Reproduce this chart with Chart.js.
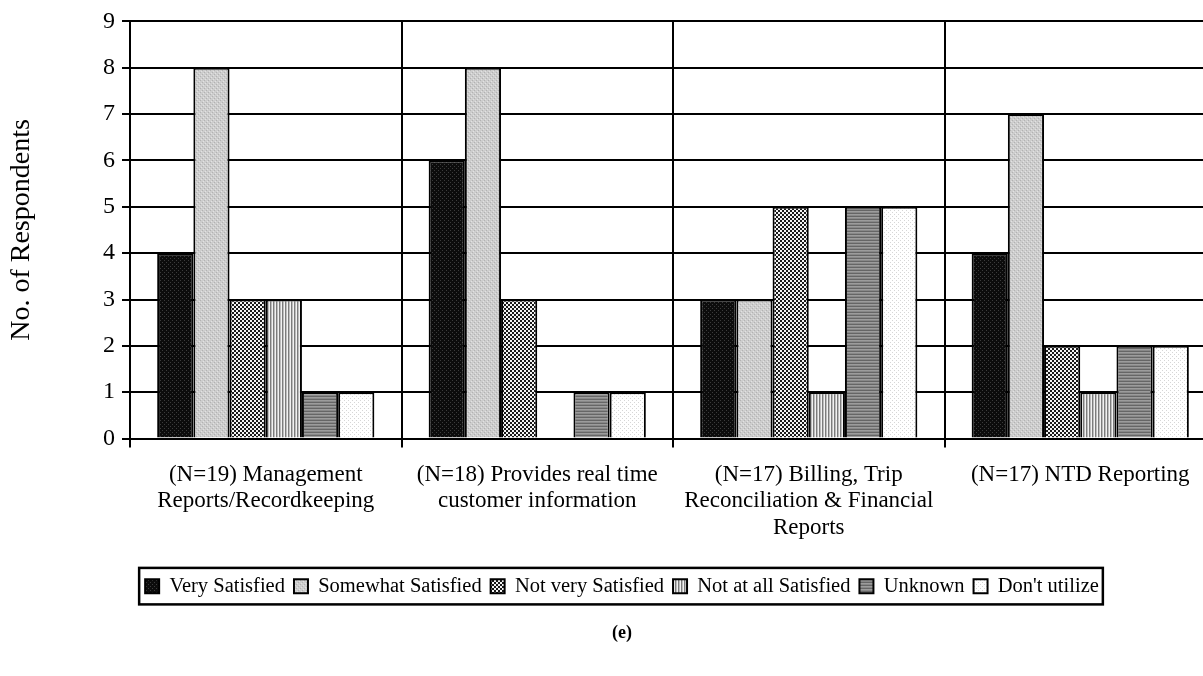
<!DOCTYPE html>
<html>
<head>
<meta charset="utf-8">
<script src="https://cdn.jsdelivr.net/npm/chart.js@4"></script>
<style>
  html, body { margin: 0; padding: 0; background: #fff; overflow: hidden; }
  #wrap { width: 1220px; height: 676px; }
</style>
</head>
<body>
<div id="wrap"><canvas id="satisfactionChart" width="1220" height="676"></canvas></div>
<script>
const categories = [
  ['(N=19) Management', 'Reports/Recordkeeping'],
  ['(N=18) Provides real time', 'customer information'],
  ['(N=17) Billing, Trip', 'Reconciliation & Financial', 'Reports'],
  ['(N=17) NTD Reporting']
];
const seriesNames = ['Very Satisfied', 'Somewhat Satisfied', 'Not very Satisfied', 'Not at all Satisfied', 'Unknown', "Don't utilize"];
const verySatisfied = [4, 6, 3, 4];
const somewhatSatisfied = [8, 8, 3, 7];
const notVerySatisfied = [3, 3, 5, 2];
const notAtAllSatisfied = [3, 0, 1, 1];
const unknownResp = [1, 1, 5, 2];
const dontUtilize = [1, 1, 5, 2];
const yTicks = [0, 1, 2, 3, 4, 5, 6, 7, 8, 9];
const caption = '(e)';

const FONT = "'Liberation Serif', 'Times New Roman', serif";

function makePattern(size, paint) {
  const c = document.createElement('canvas');
  c.width = size; c.height = size;
  const g = c.getContext('2d');
  paint(g);
  return g.createPattern(c, 'repeat');
}

// fill patterns, one per response
const fills = [
  makePattern(4, g => {
    g.fillStyle = '#0c0c0c'; g.fillRect(0, 0, 4, 4);
    g.fillStyle = '#3c3c3c'; g.fillRect(0, 0, 1, 1); g.fillRect(2, 2, 1, 1);
  }),
  makePattern(4, g => {
    g.fillStyle = '#cdcdcd'; g.fillRect(0, 0, 4, 4);
    g.fillStyle = '#b2b2b2'; g.fillRect(0, 0, 1, 1); g.fillRect(2, 2, 1, 1);
    g.fillStyle = '#e2e2e2'; g.fillRect(1, 3, 1, 1); g.fillRect(3, 1, 1, 1);
  }),
  makePattern(4, g => {
    g.fillStyle = '#f4f4f4'; g.fillRect(0, 0, 4, 4);
    g.fillStyle = '#1a1a1a'; g.fillRect(0, 0, 2, 2); g.fillRect(2, 2, 2, 2);
  }),
  makePattern(3, g => {
    g.fillStyle = '#7c7c7c'; g.fillRect(0, 0, 1, 3);
    g.fillStyle = '#bdbdbd'; g.fillRect(1, 0, 1, 3);
    g.fillStyle = '#f2f2f2'; g.fillRect(2, 0, 1, 3);
  }),
  makePattern(3, g => {
    g.fillStyle = '#666'; g.fillRect(0, 0, 3, 1);
    g.fillStyle = '#9c9c9c'; g.fillRect(0, 1, 3, 1);
    g.fillStyle = '#888'; g.fillRect(0, 2, 3, 1);
  }),
  makePattern(4, g => {
    g.fillStyle = '#fff'; g.fillRect(0, 0, 4, 4);
    g.fillStyle = '#d6d6d6'; g.fillRect(0, 0, 1, 1); g.fillRect(2, 2, 1, 1);
  })
];

const seriesValues = [verySatisfied, somewhatSatisfied, notVerySatisfied, notAtAllSatisfied, unknownResp, dontUtilize];

function buildSatisfactionChart() {
  const ctx = document.getElementById('satisfactionChart');
  const datasets = seriesNames.map((name, i) => ({
    label: name,
    data: seriesValues[i],
    backgroundColor: fills[i],
    borderColor: '#000',
    borderWidth: 2,
    categoryPercentage: 0.8,
    barPercentage: 1.0
  }));

  return new Chart(ctx, {
    type: 'bar',
    data: { labels: categories, datasets },
    options: {
      responsive: false,
      animation: false,
      devicePixelRatio: 1,
      layout: { padding: { top: 20, right: 4, bottom: 24, left: 0 } },
      scales: {
        x: {
          z: 1,
          afterFit: (scale) => { scale.height += 12; },
          grid: { offset: true, color: '#000', lineWidth: 2, tickLength: 9, tickColor: '#000' },
          border: { color: '#000', width: 2 },
          ticks: {
            color: '#000',
            font: { family: FONT, size: 23, lineHeight: 1.15 },
            padding: 14,
            maxRotation: 0,
            autoSkip: false
          }
        },
        y: {
          min: 0,
          max: 9,
          afterFit: (scale) => { scale.width = 130; },
          afterBuildTicks: (scale) => { scale.ticks = yTicks.map(v => ({ value: v })); },
          grid: { color: '#000', lineWidth: 2, tickLength: 8, tickColor: '#000' },
          border: { color: '#000', width: 2 },
          ticks: { color: '#000', font: { family: FONT, size: 24 }, padding: 7 },
          title: {
            display: true,
            text: 'No. of Respondents',
            color: '#000',
            font: { family: FONT, size: 28 },
            padding: { top: 5, bottom: 0 }
          }
        }
      },
      plugins: {
        tooltip: { enabled: false },
        legend: {
          position: 'bottom',
          labels: {
            color: '#000',
            font: { family: FONT, size: 20.5 },
            boxWidth: 14,
            boxHeight: 14,
            padding: 9
          }
        },
        title: {
          display: true,
          position: 'bottom',
          text: caption,
          color: '#000',
          font: { family: FONT, size: 18, weight: 'bold' },
          padding: { top: 16, bottom: 8 }
        }
      }
    },
    plugins: [{
      id: 'legendFrame',
      afterLayout(chart) {
        // legend and caption sit a little right of the canvas centre
        const shift = 14;
        [chart.legend, chart.titleBlock].forEach(box => {
          if (!box) return;
          box.left += shift;
          box.right += shift;
        });
        if (chart.legend) chart.legend.legendHitBoxes.forEach(hb => { hb.left += shift; });
      },
      afterDraw(chart) {
        const boxes = chart.legend && chart.legend.legendHitBoxes;
        if (!boxes || !boxes.length) return;
        const left = Math.min(...boxes.map(b => b.left)) - 6;
        const right = Math.max(...boxes.map(b => b.left + b.width)) + 4;
        const top = Math.min(...boxes.map(b => b.top)) - 8;
        const bottom = Math.max(...boxes.map(b => b.top + b.height)) + 8;
        const c = chart.ctx;
        c.save();
        c.strokeStyle = '#000';
        c.lineWidth = 2.5;
        c.strokeRect(left, top, right - left, bottom - top);
        c.restore();
      }
    }]
  });
}

buildSatisfactionChart();
</script>
</body>
</html>
